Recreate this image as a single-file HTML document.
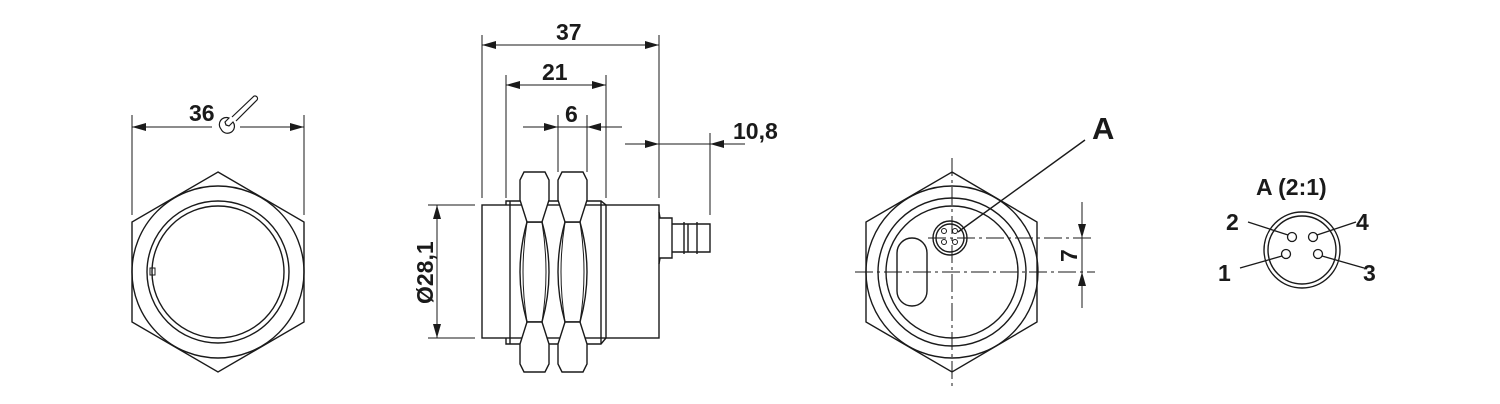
<!DOCTYPE html>
<html><head><style>body{margin:0;background:#fff}svg{display:block}text{font-family:"Liberation Sans",sans-serif;font-weight:bold;fill:#1a1a1a}</style></head>
<body>
<svg width="1500" height="404" viewBox="0 0 1500 404" xmlns="http://www.w3.org/2000/svg">
<defs><marker id="a" markerWidth="14" markerHeight="8" refX="14" refY="4" orient="auto" markerUnits="userSpaceOnUse"><path d="M0,0L14,4L0,8z" fill="#1a1a1a"/></marker></defs>
<g stroke="#1a1a1a" fill="none" stroke-width="1.4">
<!-- left hex -->
<polygon points="218,172 304,222 304,322 218,372 132,322 132,222"/>
<circle cx="218" cy="272" r="86"/><circle cx="218" cy="272" r="71"/><circle cx="218" cy="272" r="66"/>
<rect x="150" y="268" width="5" height="7" stroke-width="1"/>
<g stroke-width="1"><line x1="132" y1="115" x2="132" y2="215"/><line x1="304" y1="115" x2="304" y2="215"/>
<line x1="212" y1="127" x2="132" y2="127" marker-end="url(#a)"/><line x1="240" y1="127" x2="304" y2="127" marker-end="url(#a)"/></g>
<!-- wrench -->
<path d="M221,129 a7,7 0 1 0 12,-7 l-4,4 l-3,-1 l-1,-3 l4,-4 a7,7 0 0 0 -8,11" stroke-width="1.2"/>
<path d="M232,117 L253,97 a2.5,2.5 0 0 1 4,3 L236,121" stroke-width="1.2"/>
<!-- side view -->
<rect x="482" y="205" width="177" height="133"/>
<path d="M506,205 V201 h14 M506,338 V344 h14 M510,201 V344 M587,201 h14 l5,4 V338 l-5,6 h-14 M601,201 V344 M549,201 h9 M549,344 h9"/>
<g id="n">
<path d="M527,222 Q513,272 527,322 H542 Q556,272 542,222 Z" fill="#fff"/>
<path d="M527,222 Q519,272 527,322 M542,222 Q550,272 542,322" stroke-width="1"/>
<polygon points="524,172 545,172 549,180 549,200 542,222 527,222 520,200 520,180" fill="#fff"/>
<polygon points="524,372 545,372 549,364 549,344 542,322 527,322 520,344 520,364" fill="#fff"/>
</g>
<use href="#n" x="38"/>
<path d="M659,212 l1,6 h12 v40 h-12 l-1,6 M672,224 h38 v28 h-38 M684,222 v32 M697,222 v32 M688,224 v28"/>
<g stroke-width="1">
<line x1="482" y1="35" x2="482" y2="198"/><line x1="659" y1="35" x2="659" y2="198"/>
<line x1="570" y1="45" x2="482" y2="45" marker-end="url(#a)"/><line x1="570" y1="45" x2="659" y2="45" marker-end="url(#a)"/>
<line x1="506" y1="75" x2="506" y2="198"/><line x1="606" y1="75" x2="606" y2="198"/>
<line x1="556" y1="85" x2="506" y2="85" marker-end="url(#a)"/><line x1="556" y1="85" x2="606" y2="85" marker-end="url(#a)"/>
<line x1="558" y1="115" x2="558" y2="172"/><line x1="587" y1="115" x2="587" y2="172"/>
<line x1="523" y1="127" x2="558" y2="127" marker-end="url(#a)"/><line x1="622" y1="127" x2="587" y2="127" marker-end="url(#a)"/>
<line x1="558" y1="127" x2="587" y2="127"/>
<line x1="710" y1="133" x2="710" y2="215"/>
<line x1="625" y1="144" x2="659" y2="144" marker-end="url(#a)"/><line x1="745" y1="144" x2="710" y2="144" marker-end="url(#a)"/><line x1="659" y1="144" x2="710" y2="144"/>
<line x1="428" y1="205" x2="475" y2="205"/><line x1="428" y1="338" x2="475" y2="338"/>
<line x1="437" y1="272" x2="437" y2="205" marker-end="url(#a)"/><line x1="437" y1="272" x2="437" y2="338" marker-end="url(#a)"/>
</g>
<!-- right hex -->
<polygon points="952,172 1037,222 1037,322 952,372 866,322 866,222"/>
<circle cx="952" cy="272" r="86"/><circle cx="952" cy="272" r="74"/><circle cx="952" cy="272" r="66"/>
<rect x="897" y="238" width="30" height="68" rx="15"/>
<circle cx="950" cy="238" r="17"/><circle cx="950" cy="238" r="14"/>
<g stroke-width="1"><circle cx="944" cy="231" r="2.5"/><circle cx="955" cy="231" r="2.5"/><circle cx="944" cy="242" r="2.5"/><circle cx="955" cy="242" r="2.5"/>
<g stroke-dasharray="18,4,3,4"><line x1="855" y1="272" x2="1095" y2="272"/><line x1="952" y1="158" x2="952" y2="388"/><line x1="928" y1="238" x2="1095" y2="238"/></g>
<line x1="1082" y1="202" x2="1082" y2="238" marker-end="url(#a)"/><line x1="1082" y1="308" x2="1082" y2="272" marker-end="url(#a)"/><line x1="1082" y1="238" x2="1082" y2="272"/>
<line x1="958" y1="232" x2="1085" y2="140" stroke-width="1.4"/></g>
<!-- pin view -->
<circle cx="1302" cy="250" r="38"/><circle cx="1302" cy="250" r="34"/>
<g stroke-width="1.3"><circle cx="1292" cy="237" r="4.5"/><circle cx="1313" cy="237" r="4.5"/><circle cx="1286" cy="254" r="4.5"/><circle cx="1318" cy="254" r="4.5"/>
<line x1="1248" y1="222" x2="1288" y2="235"/><line x1="1356" y1="222" x2="1317" y2="235"/><line x1="1240" y1="268" x2="1282" y2="256"/><line x1="1364" y1="268" x2="1322" y2="256"/></g>
</g>
<g font-size="23">
<text x="189" y="121">36</text>
<text x="556" y="40">37</text>
<text x="542" y="80">21</text>
<text x="565" y="122">6</text>
<text x="733" y="139">10,8</text>
<text x="0" y="0" transform="translate(433,304) rotate(-90)">Ø28,1</text>
<text x="0" y="0" transform="translate(1077,262) rotate(-90)">7</text>
<text x="1092" y="139" font-size="31">A</text>
<text x="1256" y="195">A (2:1)</text>
<text x="1226" y="230">2</text><text x="1356" y="230">4</text><text x="1218" y="281">1</text><text x="1363" y="281">3</text>
</g>
</svg>
</body></html>
